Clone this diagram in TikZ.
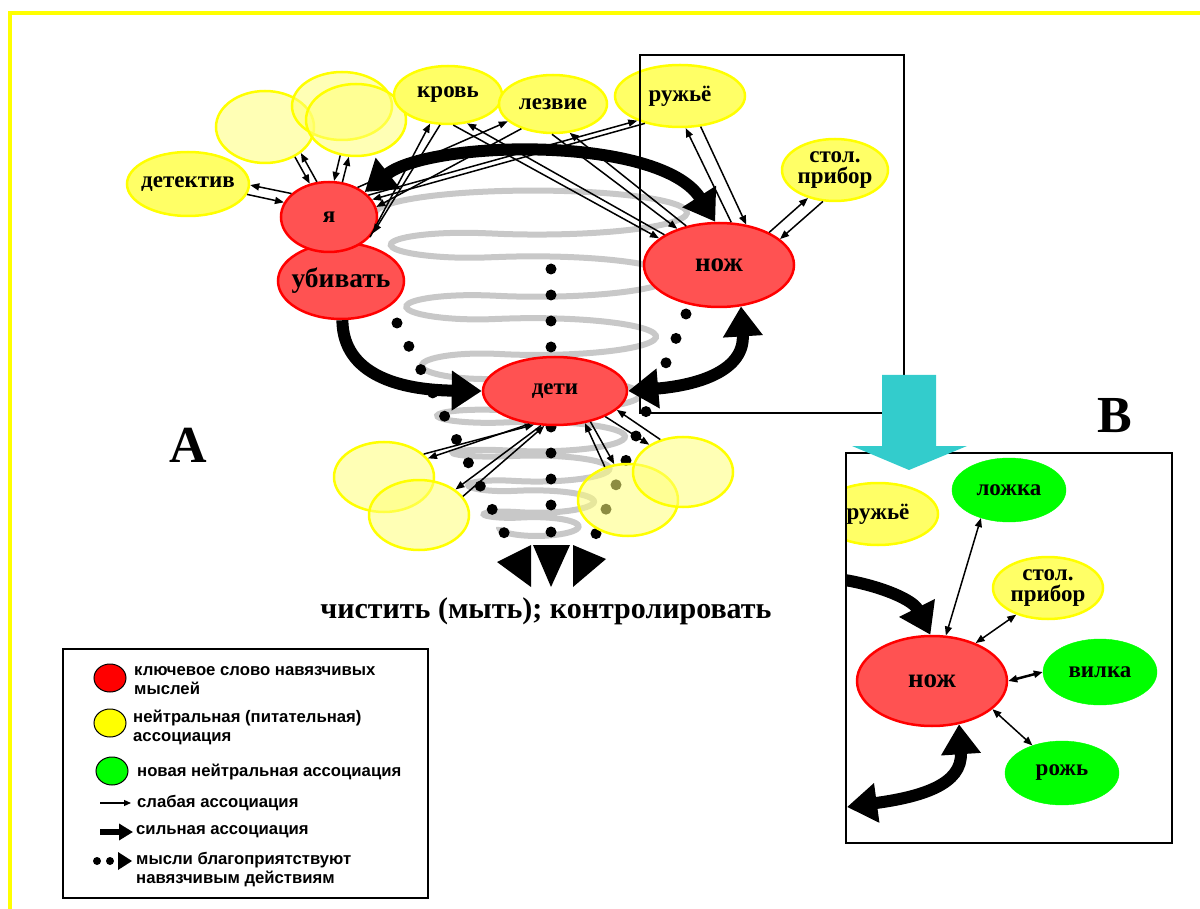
\documentclass[tikz,border=0pt]{standalone}
\usepackage{fontspec}
\setmainfont{Liberation Serif}
\newfontfamily\legendfont{Liberation Sans}
\usetikzlibrary{shapes.geometric, arrows.meta}

\definecolor{redfill}{RGB}{255,82,82}
\definecolor{yellowfill}{RGB}{255,255,102}
\definecolor{yellowline}{RGB}{255,255,0}
\definecolor{paleyellow}{RGB}{255,255,120}
\definecolor{greenfill}{RGB}{0,255,0}
\definecolor{spiralgray}{RGB}{200,200,200}
\definecolor{tealarrow}{RGB}{51,204,204}

\begin{document}
\begin{tikzpicture}[x=1pt, y=-1pt,
    declare function={sst(\u)=min(1,max(0,\u))^2*(3-2*min(1,max(0,\u)));
        lvl(\t)=213+64*sst((\t-0.3)/0.4)+60*sst((\t-1.3)/0.4)+58*sst((\t-2.3)/0.4)+42*sst((\t-3.3)/0.4)
            +32*sst((\t-4.3)/0.4)+33*sst((\t-5.3)/0.4)+25*sst((\t-6.3)/0.4);},
    every node/.style={font=\bfseries\fontsize{23}{21}\selectfont, inner sep=0pt},
    dims/.style 2 args={minimum width=#1, minimum height=#2},
    keyword/.style={ellipse, draw=red, fill=redfill, line width=2.5pt, inner sep=-5pt},
    neutral/.style={ellipse, draw=yellowline, fill=yellowfill, line width=2.5pt, inner sep=-5pt},
    blank/.style={ellipse, draw=yellowline, fill=paleyellow, fill opacity=0.55, line width=2.5pt},
    newassoc/.style={ellipse, draw=greenfill, fill=greenfill, inner sep=-5pt},
    spiral/.style={spiralgray, line width=6pt},
    weak/.style={line width=1.5pt, -{Triangle[length=9pt, width=7pt]}},
    weakboth/.style={line width=1.5pt, {Triangle[length=9pt, width=7pt]}-{Triangle[length=9pt, width=7pt]}},
    strong/.style={line width=12pt, -{Triangle[length=30pt, width=38pt]}},
    strongboth/.style={line width=12pt, {Triangle[length=30pt, width=38pt]}-{Triangle[length=30pt, width=38pt]}},
    thought/.style={fill=black},
    boxline/.style={draw=black, line width=2.5pt},
    legendtext/.style={font=\legendfont\bfseries\fontsize{16.7}{19}\selectfont, anchor=west, align=left}
]
\useasboundingbox (0,0) rectangle (1200,909);
\draw[yellowline, line width=4pt] (9.5,909) -- (9.5,13) -- (1200,13);

\draw[spiral] plot[variable=\t, domain=-0.5:7.5, samples=400, smooth]
    ({535+(152-15.5*\t)*cos(360*\t)}, {lvl(\t)+(22-1.8*\t)*sin(360*\t)});

\foreach \y in {269,295,321,347,427,453,479,505,532}
    \fill[thought] (551,\y) circle (5.5pt);
\foreach \i in {0,...,9}
    \fill[thought] ({397+11.9*\i},{323+23.3*\i}) circle (5.5pt);
\foreach \i in {0,...,9}
    \fill[thought] ({686-10*\i},{314+24.4*\i}) circle (5.5pt);

\node[neutral, dims={122pt}{64pt}] (det) at (188,184) {детектив};
\node[blank, dims={98pt}{72pt}] (bl1) at (265,127) {};
\node[blank, dims={100pt}{68pt}] (bl2) at (342,106) {};
\node[blank, dims={100pt}{72pt}] (bl3) at (356,120) {};
\node[neutral, dims={108pt}{58pt}] (krov) at (448,95) {кровь};
\node[neutral, dims={108pt}{58pt}] (lezv) at (553,104) {лезвие};
\node[neutral, dims={130pt}{62pt}] (ruzh) at (680,96) {ружьё};
\node[neutral, dims={106pt}{62pt}, align=center] (stol) at (835,170) {стол.\\прибор};
\node[keyword, dims={150pt}{84pt}, font=\bfseries\fontsize{27}{27}\selectfont] (nozh) at (719,265) {нож};
\node[keyword, dims={126pt}{76pt}, font=\bfseries\fontsize{27.5}{27}\selectfont] (ubiv) at (341,281) {убивать};
\node[keyword, dims={96pt}{70pt}] (ya) at (329,217) {я};
\node[keyword, dims={144pt}{68pt}] (deti) at (555,391) {дети};
\node[blank, dims={100pt}{70pt}] (yl1) at (384,477) {};
\node[blank, dims={100pt}{70pt}] (yl2) at (419,515) {};
\node[blank, dims={100pt}{72pt}] (yr1) at (628,500) {};
\node[blank, dims={100pt}{70pt}] (yr2) at (683,472) {};

\draw[boxline] (640,55) rectangle (904,413);

\draw[weak] (ya.148) -- (det.-1);
\draw[weak] (det.-10) -- (ya.162);
\draw[weak] (bl1.-45) -- (ya.120);
\draw[weak] (ya.109) -- (bl1.-36);
\draw[weak] (bl3.-114) -- (ya.82);
\draw[weak] (ya.69) -- (bl3.-101);
\draw[weak] (ya.-26) -- (krov.-122);
\draw[weak] (krov.-105) -- (ya.-20);
\draw[weak] (lezv.-142) -- (ya.12);
\draw[weak] (ya.46) -- (lezv.-159);
\draw[weak] (ya.29) -- (ruzh.-150);
\draw[weak] (ruzh.-142) -- (ya.22);
\draw[weak] (krov.-80) -- (nozh.156);
\draw[weak] (nozh.151) -- (krov.-56);
\draw[weak] (lezv.-92) -- (nozh.139);
\draw[weak] (nozh.130) -- (lezv.-60);
\draw[weak] (ruzh.-56) -- (nozh.56);
\draw[weak] (nozh.74) -- (ruzh.-80);
\draw[weak] (nozh.33) -- (stol.-134);
\draw[weak] (stol.-111) -- (nozh.23);
\draw[weak] (deti.-128) -- (yl1.23);
\draw[weak] (yl1.30) -- (deti.-122);
\draw[weak] (deti.-112) -- (yl2.35);
\draw[weak] (yl2.23) -- (deti.-107);
\draw[weak] (yr1.125) -- (deti.-47);
\draw[weak] (deti.-41) -- (yr1.111);
\draw[weak] (yr2.125) -- (deti.-17);
\draw[weak] (deti.-27) -- (yr2.141);

\draw[strongboth] (ya.35) .. controls (430,140) and (660,135) .. (nozh.95);
\draw[strong] (ubiv.-88) .. controls (343,375) and (400,390) .. (deti.west);
\draw[strongboth] (deti.east) .. controls (700,385) and (745,370) .. (nozh.-62);

\fill (497,562) -- (531,545) -- (531,587) -- cycle;
\fill (533,545) -- (570,545) -- (551,587) -- cycle;
\fill (573,545) -- (606,559) -- (573,587) -- cycle;
\node[font=\bfseries\fontsize{30}{30}\selectfont] (act) at (546,611) {чистить (мыть); контролировать};

\node[font=\bfseries\fontsize{52}{52}\selectfont] (labA) at (188,445) {A};
\node[font=\bfseries\fontsize{52}{52}\selectfont] (labB) at (1115,416) {B};

\node[keyword, dims={150pt}{90pt}, font=\bfseries\fontsize{27}{27}\selectfont] (nozhB) at (932,681) {нож};
\node[newassoc, dims={114pt}{64pt}] (lozh) at (1009,490) {ложка};
\node[neutral, dims={110pt}{62pt}, align=center] (stolB) at (1048,588) {стол.\\прибор};
\node[newassoc, dims={114pt}{66pt}] (vilka) at (1100,672) {вилка};
\node[newassoc, dims={114pt}{64pt}] (rozh) at (1062,773) {рожь};
\begin{scope}
    \clip (846,453) rectangle (1172,843);
    \node[neutral, dims={120pt}{62pt}] (ruzhB) at (878,514) {ружьё};
    \coordinate (inB) at (830,578);
    \coordinate (outB) at (847,807);
    \draw[strong] (inB) .. controls (870,582) and (912,598) .. (nozhB.92);
    \draw[strongboth] (outB) .. controls (920,797) and (963,785) .. (nozhB.-58);
\end{scope}
\draw[weakboth] (nozhB.73) -- (lozh.-135);
\draw[weakboth] (nozhB.41) -- (stolB.-140);
\draw[weakboth, line width=2.5pt] (nozhB.east) -- (vilka.west);
\draw[weakboth] (nozhB.-25) -- (rozh.137);
\draw[boxline] (846,453) rectangle (1172,843);

\fill[tealarrow] (882,375) -- (936,375) -- (936,446) -- (967,446) -- (909,470) -- (852,446) -- (882,446) -- cycle;

\draw[boxline] (63,649) rectangle (428,898);
\node[ellipse, draw, fill=red, line width=1pt, dims={32pt}{28pt}] (keyR) at (110,678) {};
\node[ellipse, draw, fill=yellowline, line width=1pt, dims={32pt}{28pt}] (keyY) at (110,723) {};
\node[ellipse, draw, fill=greenfill, line width=1pt, dims={32pt}{28pt}] (keyG) at (112,771) {};
\node[legendtext] (txtR) at (134,681) {ключевое слово навязчивых\\мыслей};
\node[legendtext] (txtY) at (133,727) {нейтральная (питательная)\\ассоциация};
\node[legendtext] (txtG) at (137,772) {новая нейтральная ассоциация};
\coordinate (weakA) at (100,803);
\coordinate (weakB) at (131,803);
\draw[line width=1.2pt, -{Triangle[length=7pt, width=6pt]}] (weakA) -- (weakB);
\node[legendtext] (txtW) at (137,803) {слабая ассоциация};
\coordinate (strA) at (100,832);
\coordinate (strB) at (133,832);
\draw[line width=6pt, -{Triangle[length=14pt, width=16pt]}] (strA) -- (strB);
\node[legendtext] (txtS) at (136,832) {сильная ассоциация};
\fill[thought] (97,861) circle (4pt);
\fill[thought] (110,861) circle (4pt);
\fill[thought] (118,852) -- (132,861) -- (118,870) -- cycle;
\node[legendtext] (txtT) at (136,870) {мысли благоприятствуют\\навязчивым действиям};
\end{tikzpicture}
\end{document}
